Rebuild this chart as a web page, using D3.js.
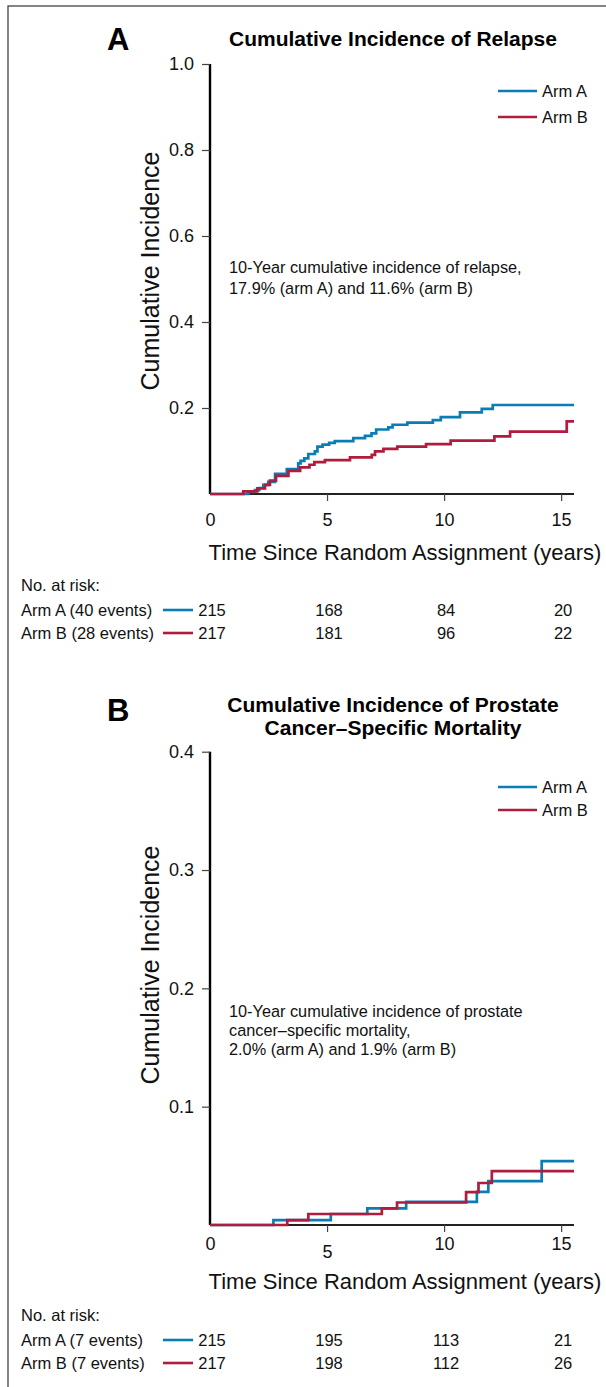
<!DOCTYPE html>
<html>
<head>
<meta charset="utf-8">
<script src="https://cdn.jsdelivr.net/npm/d3@7"></script>
<style>
  body { margin: 0; background: #fff; }
  svg { display: block; font-family: "Liberation Sans", Arial, Helvetica, sans-serif; }
</style>
</head>
<body>
<svg id="fig" width="606" height="1387"></svg>
<script>
// Cumulative incidence step estimates: [years since random assignment, cumulative incidence]
const relapseArmA = [[0,0],[1.64,0.005],[1.92,0.009],[2.1,0.014],[2.28,0.021],[2.49,0.028],[2.78,0.047],
  [3.28,0.058],[3.77,0.071],[3.87,0.077],[4.03,0.083],[4.2,0.093],[4.48,0.099],[4.59,0.110],[4.81,0.115],
  [5.09,0.119],[5.33,0.123],[6.12,0.130],[6.62,0.135],[6.9,0.141],[7.1,0.150],[7.62,0.155],[7.8,0.161],
  [8.43,0.166],[9.52,0.172],[9.86,0.179],[10.68,0.190],[11.61,0.198],[12.08,0.207]];
const relapseArmB = [[0,0],[1.42,0.006],[2.02,0.013],[2.35,0.021],[2.56,0.031],[2.82,0.042],[3.35,0.054],
  [3.85,0.062],[4.25,0.068],[4.46,0.074],[4.91,0.079],[5.98,0.085],[6.91,0.091],[7.05,0.099],[7.41,0.105],
  [8.0,0.110],[9.23,0.116],[10.28,0.124],[12.15,0.134],[12.82,0.145],[15.24,0.169]];
const pcsmArmA = [[0,0],[2.71,0.0042],[5.16,0.0093],[6.72,0.0141],[8.38,0.0195],[11.4,0.028],[11.89,0.037],[14.17,0.054]];
const pcsmArmB = [[0,0],[3.3,0.0042],[4.2,0.0093],[7.34,0.0141],[7.99,0.019],[10.94,0.0278],[11.47,0.0355],[12.04,0.0456]];

const followUpEnd = 15.55;
const xTicks = [0, 5, 10, 15];
const relapseYTicks = [0.2, 0.4, 0.6, 0.8, 1.0];
const pcsmYTicks = [0.1, 0.2, 0.3, 0.4];
const armNames = ["Arm A", "Arm B"];
const relapseRiskNames = ["Arm A (40 events)", "Arm B (28 events)"];
const pcsmRiskNames = ["Arm A (7 events)", "Arm B (7 events)"];
const relapseAtRiskA = [215, 168, 84, 20];
const relapseAtRiskB = [217, 181, 96, 22];
const pcsmAtRiskA = [215, 195, 113, 21];
const pcsmAtRiskB = [217, 198, 112, 26];

const armColors = ["#0a7db4", "#b01c3c"];

const panels = [
  {
    letter: "A", letterY: 50,
    title: ["Cumulative Incidence of Relapse"], titleY: [46],
    yMax: 1.0, yTicks: relapseYTicks, top: 64, bottom: 494,
    series: [relapseArmA, relapseArmB],
    legendY: [91, 117],
    note: ["10-Year cumulative incidence of relapse,", "17.9% (arm A) and 11.6% (arm B)"],
    noteY: [273, 294],
    yLabelY: 271,
    tickLabelY: 526, lowTick: null,
    xLabelY: 560,
    riskNames: relapseRiskNames, atRisk: [relapseAtRiskA, relapseAtRiskB],
    riskY: [591, 616, 639]
  },
  {
    letter: "B", letterY: 721,
    title: ["Cumulative Incidence of Prostate", "Cancer\u2013Specific Mortality"], titleY: [712, 735],
    yMax: 0.4, yTicks: pcsmYTicks, top: 751.7, bottom: 1225,
    series: [pcsmArmA, pcsmArmB],
    legendY: [787, 810],
    note: ["10-Year cumulative incidence of prostate", "cancer\u2013specific mortality,", "2.0% (arm A) and 1.9% (arm B)"],
    noteY: [1017, 1036, 1055],
    yLabelY: 965,
    tickLabelY: 1250, lowTick: 5,
    xLabelY: 1289,
    riskNames: pcsmRiskNames, atRisk: [pcsmAtRiskA, pcsmAtRiskB],
    riskY: [1321, 1346, 1369]
  }
];

const svg = d3.select("#fig");

// outer frame
svg.append("rect")
  .attr("x", 8).attr("y", 6).attr("width", 640).attr("height", 1420)
  .attr("fill", "none").attr("stroke", "#333").attr("stroke-width", 1.2);

const x = d3.scaleLinear().domain([0, followUpEnd]).range([210, 574]);

panels.forEach(p => {
  const g = svg.append("g");
  const y = d3.scaleLinear().domain([0, p.yMax]).range([p.bottom, p.top]);

  // panel letter and title
  g.append("text").attr("x", 107).attr("y", p.letterY)
    .attr("font-size", 31).attr("font-weight", "bold").text(p.letter);
  p.title.forEach((t, i) => {
    g.append("text").attr("x", 393).attr("y", p.titleY[i])
      .attr("text-anchor", "middle").attr("font-size", 21).attr("font-weight", "bold").text(t);
  });

  // y axis
  const yAxis = d3.axisLeft(y).tickValues(p.yTicks).tickFormat(d3.format(".1f"))
    .tickSize(8).tickPadding(8);
  const gy = g.append("g").attr("transform", `translate(${x(0)},0)`).call(yAxis);
  gy.select(".domain").attr("d", `M0,${p.top}V${p.bottom}`).attr("stroke", "#000").attr("stroke-width", 2.4);
  gy.selectAll(".tick line").attr("stroke", "#444").attr("stroke-width", 1.2);
  gy.selectAll(".tick text").attr("font-size", 18).attr("fill", "#111")
    .attr("font-family", "Liberation Sans, Arial, sans-serif");

  // x axis
  const xAxis = d3.axisBottom(x).tickValues(xTicks).tickFormat(d3.format("d"))
    .tickSize(7).tickPadding(0);
  const gx = g.append("g").attr("transform", `translate(0,${p.bottom})`).call(xAxis);
  gx.select(".domain").attr("d", `M${x(0)},0H${x(followUpEnd)}`).attr("stroke", "#222").attr("stroke-width", 2);
  gx.selectAll(".tick line").attr("stroke", "#444").attr("stroke-width", 1.2)
    .attr("display", d => d === 0 ? "none" : null);
  gx.selectAll(".tick text")
    .attr("font-size", 18).attr("fill", "#111").attr("dy", null)
    .attr("font-family", "Liberation Sans, Arial, sans-serif")
    .attr("y", d => (d === p.lowTick ? p.tickLabelY + 8 : p.tickLabelY) - p.bottom);

  // axis titles
  g.append("text")
    .attr("transform", `translate(159,${p.yLabelY}) rotate(-90)`)
    .attr("text-anchor", "middle").attr("font-size", 25).attr("fill", "#111")
    .text("Cumulative Incidence");
  g.append("text").attr("x", 405).attr("y", p.xLabelY)
    .attr("text-anchor", "middle").attr("font-size", 22).attr("fill", "#111")
    .text("Time Since Random Assignment (years)");

  // annotation
  p.note.forEach((t, i) => {
    g.append("text").attr("x", 229).attr("y", p.noteY[i])
      .attr("font-size", 16.3).attr("fill", "#111").text(t);
  });

  // step curves
  const line = d3.line().x(d => x(d[0])).y(d => y(d[1])).curve(d3.curveStepAfter);
  p.series.forEach((s, i) => {
    const pts = s.concat([[followUpEnd, s[s.length - 1][1]]]);
    g.append("path").datum(pts)
      .attr("d", line).attr("fill", "none")
      .attr("stroke", armColors[i]).attr("stroke-width", 2.7)
      .attr("stroke-linejoin", "miter");
  });

  // legend
  armNames.forEach((n, i) => {
    g.append("line").attr("x1", 498).attr("x2", 537)
      .attr("y1", p.legendY[i]).attr("y2", p.legendY[i])
      .attr("stroke", armColors[i]).attr("stroke-width", 2.6);
    g.append("text").attr("x", 542).attr("y", p.legendY[i] + 6)
      .attr("font-size", 16.5).attr("fill", "#111").text(n);
  });

  // numbers at risk
  g.append("text").attr("x", 21).attr("y", p.riskY[0])
    .attr("font-size", 16.5).attr("fill", "#111").text("No. at risk:");
  p.riskNames.forEach((n, i) => {
    const ry = p.riskY[i + 1];
    g.append("text").attr("x", 21).attr("y", ry)
      .attr("font-size", 16.5).attr("fill", "#111").text(n);
    g.append("line").attr("x1", 163).attr("x2", 193)
      .attr("y1", ry - 6).attr("y2", ry - 6)
      .attr("stroke", armColors[i]).attr("stroke-width", 2.6);
    g.selectAll(null).data(p.atRisk[i]).join("text")
      .attr("x", (d, k) => x(xTicks[k]) + 2).attr("y", ry)
      .attr("text-anchor", "middle").attr("font-size", 16.5).attr("fill", "#111")
      .text(d => d);
  });
});
</script>
</body>
</html>
